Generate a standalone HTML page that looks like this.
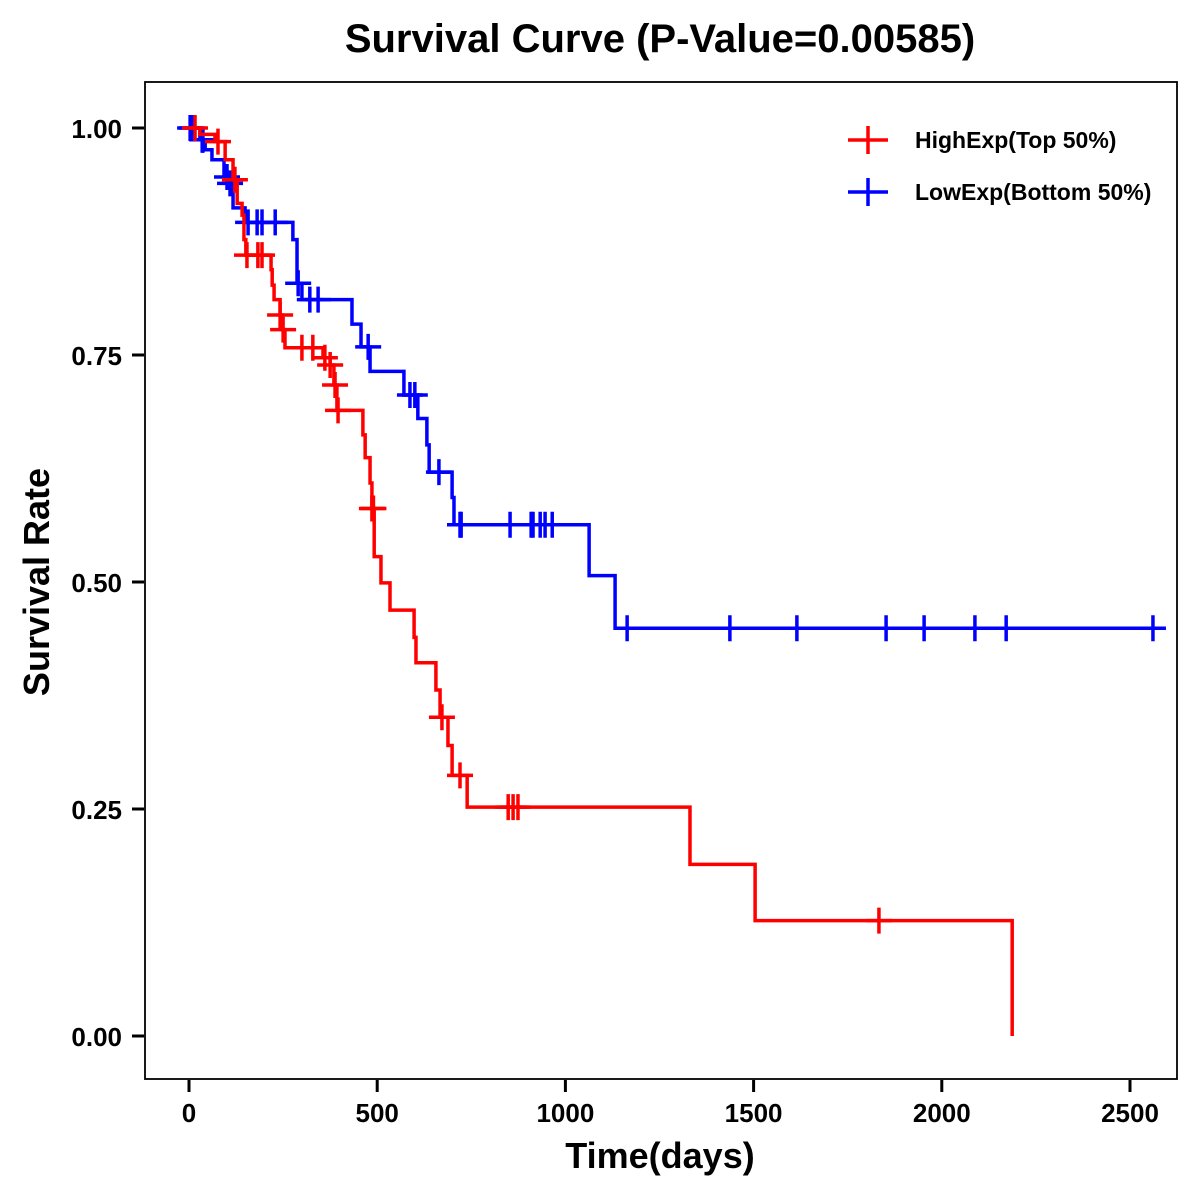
<!DOCTYPE html>
<html><head><meta charset="utf-8"><title>Survival Curve</title>
<style>html,body{margin:0;padding:0;background:#fff}svg{display:block}text{font-family:"Liberation Sans",Arial,sans-serif;font-weight:bold}</style>
</head><body>
<svg id="chart" width="1200" height="1200" viewBox="0 0 1200 1200">
<text x="660" y="52" text-anchor="middle" font-size="40">Survival Curve (P-Value=0.00585)</text>
<rect x="145" y="82" width="1032" height="997" fill="none" stroke="#000" stroke-width="1.8"/>
<g id="axes"></g>
<g id="series"></g>
<text x="660" y="1168" text-anchor="middle" font-size="36">Time(days)</text>
<text transform="translate(49,582) rotate(-90)" text-anchor="middle" font-size="36">Survival Rate</text>
<g>
<g>
<line x1="848" y1="140" x2="888" y2="140" stroke="#f00" stroke-width="3.5"/><line x1="868" y1="126" x2="868" y2="154" stroke="#f00" stroke-width="3.5"/>
<text x="915" y="148" font-size="23">HighExp(Top 50%)</text></g>
<g>
<line x1="848" y1="192" x2="888" y2="192" stroke="#00f" stroke-width="3.5"/><line x1="868" y1="178" x2="868" y2="206" stroke="#00f" stroke-width="3.5"/>
<text x="915" y="200" font-size="23">LowExp(Bottom 50%)</text></g>
</g>
</svg>
<script>
const xTicks = [0, 500, 1000, 1500, 2000, 2500];
const yTicks = [0, 0.25, 0.5, 0.75, 1.0];
const yTickLabels = ["0.00", "0.25", "0.50", "0.75", "1.00"];
const highTimes = [0, 29, 69, 96, 117, 128, 141, 146, 151, 218, 221, 226, 242, 247, 255, 356, 375, 385, 393, 462, 468, 481, 486, 492, 510, 534, 598, 603, 656, 667, 688, 699, 739, 1331, 1504, 2187];
const highSurv = [1.0, 0.993, 0.985, 0.965, 0.943, 0.917, 0.904, 0.877, 0.860, 0.844, 0.827, 0.811, 0.794, 0.778, 0.758, 0.747, 0.739, 0.717, 0.689, 0.662, 0.637, 0.609, 0.581, 0.528, 0.499, 0.469, 0.439, 0.411, 0.381, 0.351, 0.320, 0.287, 0.252, 0.189, 0.127, 0.0];
const highCensor = [16, 77, 122, 154, 183, 194, 242, 250, 300, 329, 361, 375, 388, 396, 486, 490, 672, 720, 848, 861, 874, 1833];
const lowTimes = [0, 29, 43, 61, 93, 106, 117, 149, 276, 287, 300, 433, 457, 481, 571, 608, 632, 638, 699, 704, 1063, 1132];
const lowSurv = [1.0, 0.987, 0.976, 0.965, 0.946, 0.939, 0.912, 0.896, 0.877, 0.829, 0.811, 0.784, 0.759, 0.732, 0.706, 0.680, 0.651, 0.621, 0.593, 0.563, 0.507, 0.449];
const lowEnd = 2588;
const lowCensor = [3, 8, 35, 37, 101, 109, 157, 181, 194, 229, 290, 321, 343, 476, 587, 600, 664, 720, 723, 853, 909, 914, 933, 946, 965, 1164, 1437, 1615, 1852, 1953, 2088, 2171, 2561];

const NS = "http://www.w3.org/2000/svg";
function xs(t){ return 189 + t * (941/2500); }
function ys(s){ return 1036 - s * 908; }
function mk(tag, attrs, parent){ const e = document.createElementNS(NS, tag); for (const k in attrs) e.setAttribute(k, attrs[k]); parent.appendChild(e); return e; }
const axes = document.getElementById("axes");
xTicks.forEach(t => {
  const tk = mk("line", {x1: xs(t), x2: xs(t), y1: 1080, y2: 1092, stroke: "#000", "stroke-width": 3}, axes);
  
  
  const lb = mk("text", {x: xs(t), y: 1122, "text-anchor": "middle", "font-size": 26}, axes);
  lb.textContent = t;
  
  
});
yTicks.forEach((v, i) => {
  const tk = mk("line", {x1: 132, x2: 144, y1: ys(v), y2: ys(v), stroke: "#000", "stroke-width": 3}, axes);
  
  
  const lb = mk("text", {x: 122, y: ys(v) + 10, "text-anchor": "end", "font-size": 26}, axes);
  lb.textContent = yTickLabels[i];
  
  
});
function survAt(times, surv, t){ let s = surv[0]; for (let i = 0; i < times.length; i++) if (times[i] <= t) s = surv[i]; return s; }
function draw(times, surv, endT, censor, color, name){
  const g = mk("g", {}, document.getElementById("series"));
  
  
  let d = "M" + xs(times[0]) + "," + ys(surv[0]);
  for (let i = 1; i < times.length; i++) d += " H" + xs(times[i]) + " V" + ys(surv[i]);
  if (endT > times[times.length - 1]) d += " H" + xs(endT);
  const p = mk("path", {d: d, fill: "none", stroke: color, "stroke-width": 3.5}, g);
  
  
  censor.forEach(t => {
    const cx = xs(t), cy = ys(survAt(times, surv, t));
    const c = mk("path", {d: "M" + (cx - 13) + "," + cy + " H" + (cx + 13) + " M" + cx + "," + (cy - 13) + " V" + (cy + 13), stroke: color, "stroke-width": 3.5, fill: "none"}, g);
    
    
  });
}
draw(lowTimes, lowSurv, lowEnd, lowCensor, "#0000ff", "low-exp-series");
draw(highTimes, highSurv, highTimes[highTimes.length - 1], highCensor, "#ff0000", "high-exp-series");
</script>
</body></html>
